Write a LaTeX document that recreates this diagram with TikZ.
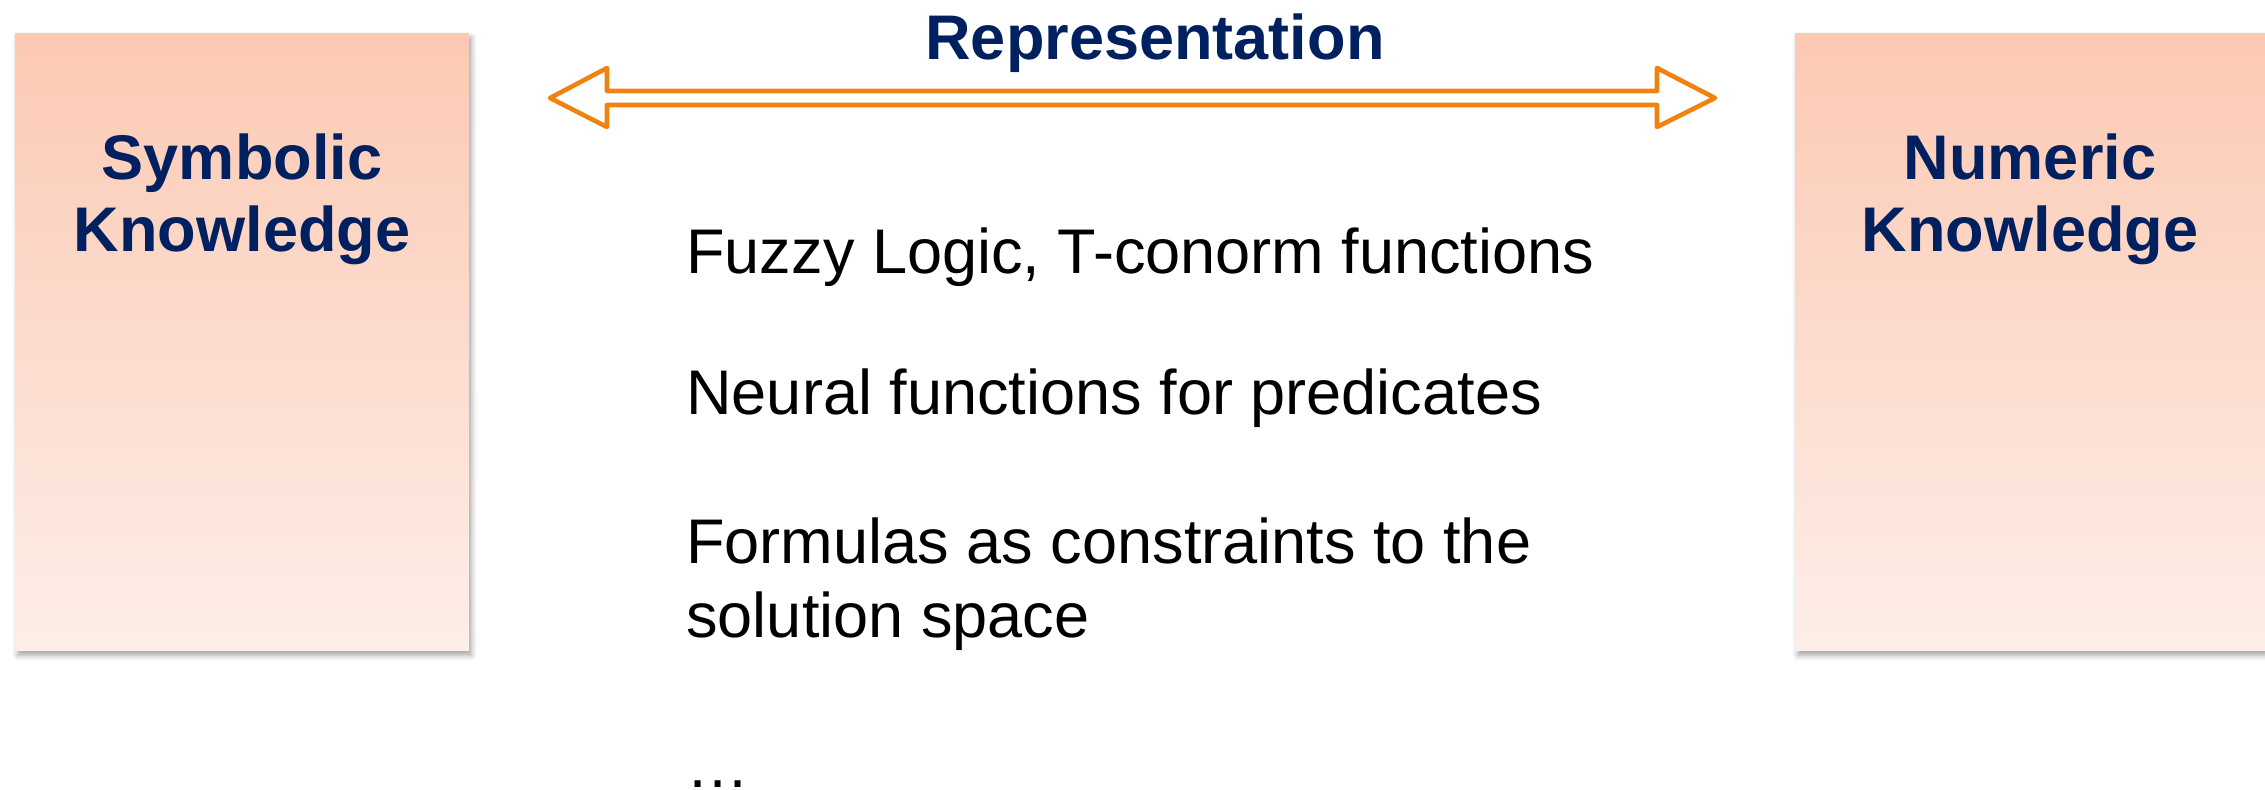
\documentclass[tikz,border=0pt]{standalone}
\usepackage{fontspec}
\setmainfont{Liberation Sans}
\usetikzlibrary{positioning,calc,shadows.blur}
\definecolor{kbNavy}{HTML}{002060}
\definecolor{kbOrange}{HTML}{F0820F}
\definecolor{kbTop}{HTML}{FCC9B3}
\definecolor{kbBottom}{HTML}{FDEEE8}

\begin{document}
\begin{tikzpicture}[
    x=0.02cm, y=-0.02cm,
    kbox/.style={rectangle, inner sep=0pt, minimum height=12.36cm, top color=kbTop, bottom color=kbBottom,
        blur shadow={shadow xshift=1.5pt, shadow yshift=-2.5pt, shadow blur radius=3pt, shadow opacity=35}},
    ktitle/.style={font=\fontsize{35.9}{41}\selectfont\bfseries, text=kbNavy, inner sep=0pt, anchor=base},
    kitem/.style={font=\fontsize{35.9}{41}\selectfont, inner sep=0pt, anchor=base west},
]
\useasboundingbox (0,0) rectangle (2265,789);

% ===== Knowledge boxes =====
\node[kbox, minimum width=9.08cm] (symb) at (242, 342) {};
\node[kbox, minimum width=9.42cm] (numr) at (2030.5, 342) {};

\node[ktitle] (symbA) at (242, 179) {Symbolic};
\node[ktitle] (symbB) at ($(symbA.base)+(0,72)$) {Knowledge};
\node[ktitle] (numrA) at (2030, 179) {Numeric};
\node[ktitle] (numrB) at ($(numrA.base)+(0,72)$) {Knowledge};

% ===== Representation arrow =====
\node[ktitle] (repr) at (1155, 59) {Representation};
\coordinate (repL) at (550, 98);
\coordinate (repR) at (1715, 98);
\draw[kbOrange, fill=white, line width=2.6pt, line join=round]
    (repL) -- ++(57,-30) -- ++(0,23) -- ($(repR)+(-58,-7)$) -- ++(0,-23) -- (repR)
    -- ++(-58,29) -- ++(0,-22) -- ($(repL)+(57,7)$) -- ++(0,22) -- cycle;

% ===== Items =====
\node[kitem] (fuzzy) at (686, 273) {Fuzzy Logic, T-conorm functions};
\node[kitem] (neural) at (686, 414) {Neural functions for predicates};
\node[kitem] (formA) at (686, 563) {Formulas as constraints to the};
\node[kitem] (formB) at ($(formA.base west)+(0,74)$) {solution space};
\node[kitem] (dots) at (686, 787) {…};

\end{tikzpicture}
\end{document}
